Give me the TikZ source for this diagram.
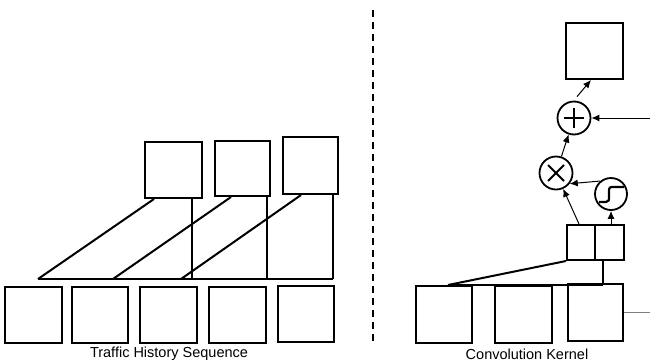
\documentclass[tikz,border=0pt]{standalone}
\usepackage{fontspec}
\setmainfont{Liberation Sans}
\usetikzlibrary{arrows.meta,calc}
\begin{document}
\begin{tikzpicture}[x=1pt,y=-1pt,
  sq/.style={draw,line width=2pt,minimum width=57pt,minimum height=56pt,inner sep=0pt},
  op/.style={draw,circle,line width=1.8pt,minimum size=33pt,inner sep=0pt},
  bus/.style={line width=2pt},
  glyph/.style={line width=1.8pt},
  arr/.style={line width=1pt,-{Latex[length=8pt,width=7pt]}},
  lbl/.style={font=\fontsize{14.5}{16}\selectfont,inner sep=0pt}]
\useasboundingbox (0,0) rectangle (650,362);

% ---------- left: traffic history sequence ----------
\node[sq] (b1) at (33.5,315) {};
\node[sq,minimum width=56pt] (b2) at (100,315) {};
\node[sq] (b3) at (168.5,314.5) {};
\node[sq] (b4) at (237.5,315) {};
\node[sq,minimum width=56pt] (b5) at (306,314) {};

\node[sq] (t1) at (173.5,170) {};
\node[sq,minimum width=55pt,minimum height=55pt] (t2) at (242.5,168.5) {};
\node[sq,minimum width=55pt,minimum height=57pt] (t3) at (310.5,165.5) {};

\coordinate (h1) at (38,279);
\coordinate (h2) at (113,279);
\coordinate (h3) at (181,279);
\coordinate (hv1) at (192,279);
\coordinate (hv2) at (267,279);
\coordinate (hv3) at (333,279);

\draw[bus] (h1) -- (hv3);
\draw[bus] ($(t1.south west)+(10,0)$) -- (h1);
\draw[bus] ($(t2.south west)+(17,0)$) -- (h2);
\draw[bus] ($(t3.south west)+(19,0)$) -- (h3);
\draw[bus] (hv1 |- t1.south) -- (hv1);
\draw[bus] (hv2 |- t2.south) -- (hv2);
\draw[bus] (hv3 |- t3.south) -- (hv3);

\node[lbl] (lab1) at (169,354) {Traffic History Sequence};

% ---------- divider ----------
\coordinate (d1) at (373,10);
\coordinate (d2) at (373,343);
\draw[line width=2pt,dash pattern=on 7pt off 5pt] (d1) -- (d2);

% ---------- right: convolution kernel ----------
\node[sq] (r0) at (594.5,51) {};
\node[op] (plus) at (574,118) {};
\node[op] (times) at (556,173) {};
\node[op,minimum size=32pt] (sig) at (611,194) {};

\node[sq,minimum width=28pt,minimum height=35pt] (A) at (581,242.5) {};
\node[sq,minimum width=29pt,minimum height=35pt] (B) at (609.5,242.5) {};

\node[sq,minimum width=56pt,minimum height=57pt] (C1) at (444,314.5) {};
\node[sq,minimum height=57pt] (C2) at (523.5,314.5) {};
\node[sq,minimum width=55pt,minimum height=57pt] (C3) at (595.5,312.5) {};

% glyphs
\draw[glyph] ($(plus)+(-10,0)$) -- ($(plus)+(10,0)$);
\draw[glyph] ($(plus)+(0,-10)$) -- ($(plus)+(0,10)$);
\draw[glyph] ($(times)+(-8,-8)$) -- ($(times)+(8,8)$);
\draw[glyph] ($(times)+(-8,8)$) -- ($(times)+(8,-8)$);
\draw[line width=2.2pt,line join=round] ($(sig)+(-12,8)$) -- ($(sig)+(-5,8)$)
  .. controls ($(sig)+(-2,8)$) and ($(sig)+(-2,6)$) .. ($(sig)+(-2,2)$)
  -- ($(sig)+(-2,-3)$)
  .. controls ($(sig)+(-2,-7)$) and ($(sig)+(-1,-7)$) .. ($(sig)+(3,-7)$)
  -- ($(sig)+(13,-7)$);

% connectors
\coordinate (k1) at (448,285);
\coordinate (k2) at (603,285);
\draw[bus] (A.south west) -- (k1);
\draw[bus] (k1) -- (k2);
\draw[bus] (k2 |- B.south) -- (k2);

\draw[arr] ($(A.north west)+(13,0)$) -- (times);
\draw[arr] (sig |- B.north) -- (sig.south);
\draw[arr] (sig.130) -- (times.-38);
\draw[arr] (times) -- (plus);
\draw[arr] ($(plus.north)+(3,-4)$) -- ($(r0.south west)+(26,0)$);

\coordinate (in) at (650,118);
\draw[arr] (in) -- (plus.east);
\coordinate (out) at (650,312.5);
\draw[gray,line width=1.2pt] (C3.east) -- (out);

\node[lbl] (lab2) at (527,354) {Convolution Kernel};
\end{tikzpicture}
\end{document}
